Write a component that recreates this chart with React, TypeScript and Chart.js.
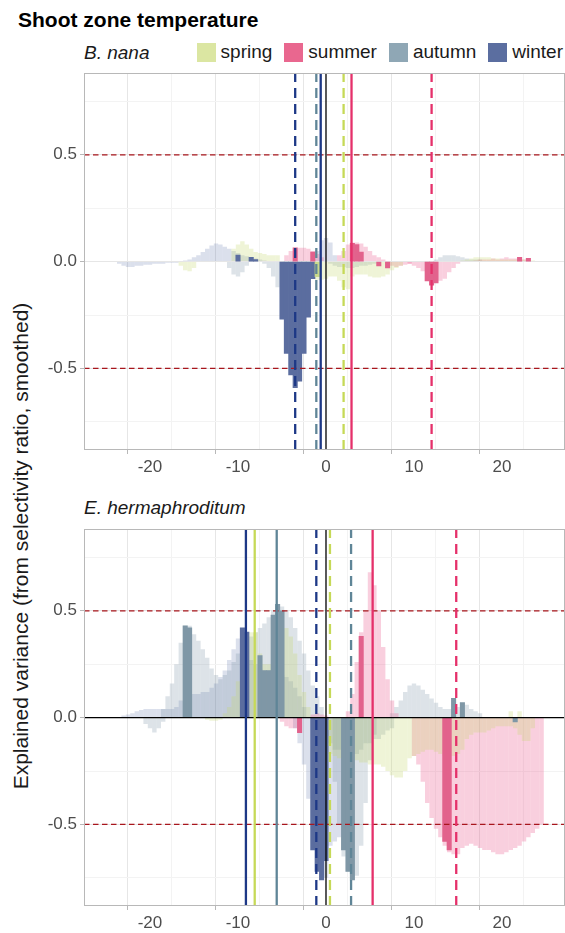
import React, { useEffect, useRef } from 'react';
import { Chart, registerables } from 'chart.js';

Chart.register(...registerables);

// ---------- data ----------
// Each segment: [centre of first 0.5 °C bin, values of consecutive bins]
type Seg = [number, number[]];
const BIN = 0.5;

const seasons = ['spring', 'summer', 'autumn', 'winter'];

// B. nana
const nanaSpringLight: Seg[] = [
  [-16.5, [-0.02, -0.04, -0.045, -0.03]],
  [-10.5, [0.06, 0.08, 0.095, 0.08, 0.06, 0.045, 0.04, 0.035, 0.03, 0.03, 0.03]],
  [-2, [-0.07, -0.08, -0.085, -0.085, -0.08, -0.07, -0.07, -0.09, -0.12, -0.13, -0.07, -0.06, -0.06, -0.06, -0.07, -0.075, -0.075, -0.07, -0.06, -0.04, -0.03, -0.02]],
  [15.5, [0.005, 0.01, 0.015, 0.02, 0.02, 0.02, 0.02, 0.015, 0.015, 0.01, 0.01, 0.01, 0.01, 0.01, 0.01, 0.005, 0.005]],
];
const nanaSummerLight: Seg[] = [
  [-4.5, [0.03, 0.05, 0.06, 0.065, 0.065, 0.06, 0.05, 0.035, 0.02]],
  [1.5, [0.03, 0.05, 0.08, 0.09, 0.09, 0.085, 0.07, 0.05, 0.03, 0.02, 0.01]],
  [7, [-0.01, -0.02, -0.025, -0.02, -0.015, -0.01]],
  [9.5, [-0.01, -0.02, -0.03, -0.045, -0.06, -0.08, -0.09, -0.09, -0.08, -0.05, -0.03, -0.01]],
  [17, [0.005, 0.01, 0.01, 0.01, 0.015, 0.01, 0.015, 0.02, 0.015, 0.015, 0.01, 0.01, 0.005]],
];
const nanaAutumnLight: Seg[] = [
  [-11, [-0.03, -0.06, -0.07, -0.05, -0.02]],
  [-7, [-0.01, -0.03, -0.07, -0.12, -0.15, -0.15, -0.12, -0.1, -0.08, -0.06, -0.04, -0.02]],
  [0.5, [-0.01, -0.02, -0.025, -0.025, -0.03, -0.03, -0.025, -0.02, -0.02, -0.015, -0.01]],
  [12.5, [0.01, 0.02, 0.03, 0.03, 0.03, 0.025, 0.02, 0.015, 0.01, 0.01, 0.01]],
];
const nanaWinterLight: Seg[] = [
  [-23.5, [-0.01, -0.02, -0.025, -0.025, -0.02, -0.02, -0.015, -0.015, -0.01, -0.01, -0.01, -0.005, -0.005, -0.005]],
  [-16, [0.005, 0.01, 0.02, 0.03, 0.045, 0.06, 0.075, 0.085, 0.08, 0.07, 0.06, 0.05, 0.04, 0.03, 0.025, 0.02, 0.015, 0.01, 0.005]],
  [-1, [0.05, 0.1, 0.11, 0.09, 0.03]],
];
const nanaSpringDark: Seg[] = [[-1, [-0.07]]];
const nanaSummerDark: Seg[] = [
  [-3.5, [0.065]], [-1.5, [0.045]], [3, [0.085, 0.08]], [4, [0.045]],
  [6, [-0.02]], [7, [-0.03]], [11.5, [-0.09, -0.11, -0.1]], [22, [0.02]], [23, [0.015]],
];
const nanaAutumnDark: Seg[] = [];
const nanaWinterDark: Seg[] = [
  [-10, [0.03]], [-8.5, [0.02, 0.01]],
  [-5, [-0.27, -0.43, -0.53, -0.59, -0.56, -0.43, -0.26, -0.08]],
];

// E. hermaphroditum
const hermSpringLight: Seg[] = [
  [-13.5, [-0.01, -0.015, -0.015, -0.01]],
  [-11.5, [0.02, 0.05, 0.1, 0.17, 0.25, 0.33, 0.4, 0.4, 0.3, 0.25, 0.25, 0.3, 0.36, 0.42, 0.42, 0.38, 0.3, 0.2, 0.12, 0.05]],
  [0.5, [-0.17, -0.18, -0.19, -0.2, -0.2, -0.2, -0.2, -0.21, -0.21, -0.22, -0.22, -0.22, -0.23, -0.25, -0.27, -0.28, -0.28, -0.25, -0.19, -0.18, -0.17, -0.16, -0.15, -0.15, -0.16, -0.17, -0.18, -0.18, -0.18, -0.17, -0.15, -0.1, -0.08, -0.07, -0.07, -0.07, -0.06, -0.05, -0.04, -0.04, -0.04, -0.04, -0.05, -0.08, -0.11, -0.11, -0.05]],
  [21, [0.03]], [22, [0.03]],
];
const hermSummerLight: Seg[] = [
  [-5, [-0.02, -0.04, -0.05, -0.05, -0.04]],
  [-1.5, [0.015, 0.02, 0.015, 0.01]],
  [2.5, [0.03, 0.11, 0.26, 0.4, 0.5, 0.68, 0.62, 0.5, 0.33, 0.18, 0.08, 0.02]],
  [10, [-0.18, -0.22, -0.3, -0.4, -0.47, -0.52, -0.56, -0.6, -0.63, -0.64, -0.64, -0.61, -0.6, -0.59, -0.6, -0.61, -0.62, -0.62, -0.63, -0.64, -0.64, -0.63, -0.62, -0.61, -0.6, -0.58, -0.56, -0.54, -0.52, -0.5]],
];
const hermAutumnLight: Seg[] = [
  [-20.5, [-0.03, -0.05, -0.07, -0.05, -0.02]],
  [-18.5, [0.04, 0.1, 0.16, 0.25, 0.35, 0.43, 0.43, 0.39, 0.36, 0.32, 0.28, 0.23, 0.2]],
  [-12, [0.18, 0.2, 0.22, 0.26, 0.3, 0.33, 0.36, 0.38, 0.4, 0.42, 0.44, 0.47, 0.5, 0.52, 0.52, 0.5, 0.47, 0.42, 0.36, 0.3, 0.22, 0.15, 0.1, 0.05]],
  [1, [-0.3, -0.5, -0.65, -0.72, -0.76, -0.74, -0.6, -0.4, -0.2, -0.08]],
  [7.5, [0.02, 0.05, 0.08, 0.12, 0.15, 0.16, 0.15, 0.13, 0.11, 0.09, 0.07, 0.05, 0.04, 0.04, 0.04, 0.05, 0.07, 0.06, 0.04, 0.03, 0.02]],
  [0.5, [-0.12, -0.15, -0.15, -0.15, -0.16, -0.17, -0.17, -0.15, -0.12, -0.12, -0.1, -0.1, -0.08, -0.06, -0.05]],
];
const hermWinterLight: Seg[] = [
  [-23, [0.01, 0.015, 0.02, 0.03, 0.035, 0.04, 0.04, 0.04, 0.04, 0.04, 0.04, 0.04, 0.05, 0.08, 0.1, 0.1, 0.11, 0.11, 0.12, 0.12, 0.14, 0.16, 0.19, 0.22, 0.27, 0.32, 0.37, 0.4, 0.3, 0.27, 0.25, 0.23, 0.22, 0.22, 0.21, 0.2, 0.2, 0.19, 0.17, 0.14, 0.1, 0.05]],
  [-3.5, [-0.05, -0.12, -0.22, -0.38, -0.52, -0.6, -0.7, -0.75, -0.6, -0.58, -0.56, -0.4, -0.15]],
];
const hermSpringDark: Seg[] = [];
const hermSummerDark: Seg[] = [[-3, [-0.07]], [4, [0.38]], [13.5, [-0.58, -0.62]]];
const hermAutumnDark: Seg[] = [
  [-16, [0.43, 0.42]], [-7.5, [0.29]], [-7, [0.22, 0.22]], [-6, [0.48, 0.53, 0.5]],
  [2, [-0.62, -0.72, -0.76]], [14.5, [0.09]], [15.5, [0.07]], [21.5, [-0.02]],
];
const hermWinterDark: Seg[] = [[-9.5, [0.42, 0.4]], [-1.5, [-0.62, -0.72, -0.76, -0.67]]];

// reference lines (temperatures)
const nanaSolidX = [-0.6, 2.9];
const nanaSolidSeason = ['winter', 'summer'];
const nanaDashedX = [-3.5, -1.1, 2.0, 12.0];
const nanaDashedSeason = ['winter', 'autumn', 'spring', 'summer'];
const hermSolidX = [-9.1, -8.1, -5.6, 5.3];
const hermSolidSeason = ['winter', 'spring', 'autumn', 'summer'];
const hermDashedX = [-1.1, 0.45, 2.85, 14.8];
const hermDashedSeason = ['winter', 'spring', 'autumn', 'summer'];
const thresholdY = [0.5, -0.5];

const xTicks = [-20, -10, 0, 10, 20];
const yTicks = [-0.5, 0, 0.5];

// ---------- styles ----------
const X_MIN = -27.5;
const X_MAX = 27.16;
const Y_MIN = -0.882;
const Y_MAX = 0.882;
const FONT = '"Liberation Sans", Arial, Helvetica, sans-serif';

const lightFill: Record<string, string> = {
  spring: 'rgba(196,216,110,0.28)',
  summer: 'rgba(236,96,146,0.30)',
  autumn: 'rgba(112,138,160,0.24)',
  winter: 'rgba(92,112,168,0.22)',
};
const darkFill: Record<string, string> = {
  spring: '#c9d98a',
  summer: '#e2628c',
  autumn: '#7f97a6',
  winter: '#5b6d9f',
};
const lineColor: Record<string, string> = {
  spring: '#c6d957',
  summer: '#e5306a',
  autumn: '#5f8597',
  winter: '#1d3886',
};
const legendColor: Record<string, string> = {
  spring: '#dbe6a2',
  summer: '#e9678f',
  autumn: '#8fa7b5',
  winter: '#5b6ea0',
};

type Panel = {
  light: Record<string, Seg[]>;
  dark: Record<string, Seg[]>;
  solidX: number[];
  solidSeason: string[];
  dashedX: number[];
  dashedSeason: string[];
  zeroH: boolean;
};

const nanaPanel: Panel = {
  light: { spring: nanaSpringLight, summer: nanaSummerLight, autumn: nanaAutumnLight, winter: nanaWinterLight },
  dark: { spring: nanaSpringDark, summer: nanaSummerDark, autumn: nanaAutumnDark, winter: nanaWinterDark },
  solidX: nanaSolidX, solidSeason: nanaSolidSeason,
  dashedX: nanaDashedX, dashedSeason: nanaDashedSeason,
  zeroH: false,
};
const hermPanel: Panel = {
  light: { spring: hermSpringLight, summer: hermSummerLight, autumn: hermAutumnLight, winter: hermWinterLight },
  dark: { spring: hermSpringDark, summer: hermSummerDark, autumn: hermAutumnDark, winter: hermWinterDark },
  solidX: hermSolidX, solidSeason: hermSolidSeason,
  dashedX: hermDashedX, dashedSeason: hermDashedSeason,
  zeroH: true,
};

function segPoints(segs: Seg[]) {
  const pts: { x: number; y: number }[] = [];
  segs.forEach(([start, vals]) => vals.forEach((v, i) => pts.push({ x: start + i * BIN, y: v })));
  return pts;
}

function barSet(segs: Seg[], color: string, order: number, inflate: number) {
  return {
    type: 'bar',
    data: segPoints(segs),
    backgroundColor: color,
    borderWidth: 0,
    grouped: false,
    barPercentage: 1,
    categoryPercentage: 1,
    inflateAmount: inflate,
    order,
  };
}

function lineSet(data: { x: number; y: number }[], color: string, width: number, dash: number[], order: number) {
  return {
    type: 'line',
    data,
    borderColor: color,
    borderWidth: width,
    borderDash: dash,
    borderCapStyle: 'butt',
    pointRadius: 0,
    fill: false,
    tension: 0,
    clip: 0,
    order,
  };
}

const isMult = (v: number, m: number) => Math.abs(v / m - Math.round(v / m)) < 1e-6;
const tickVal = (c: any) => (c && c.tick ? c.tick.value : NaN);
const near = (arr: number[], v: number) => arr.some((t) => Math.abs(t - v) < 1e-6);

const borderPlugin = {
  id: 'panelBorder',
  afterDatasetsDraw(chart: any) {
    const { ctx, chartArea: a } = chart;
    ctx.save();
    ctx.strokeStyle = '#b8b8b8';
    ctx.lineWidth = 1;
    ctx.strokeRect(Math.round(a.left) + 0.5, Math.round(a.top) + 0.5, Math.round(a.width) - 1, Math.round(a.height) - 1);
    ctx.restore();
  },
};

function buildConfig(p: Panel, axisHeight: number): any {
  const datasets: any[] = [];
  seasons.forEach((s) => datasets.push(barSet(p.light[s], lightFill[s], 40, 0)));
  seasons.forEach((s) => datasets.push(barSet(p.dark[s], darkFill[s], 30, 0.33)));
  thresholdY.forEach((y) =>
    datasets.push(lineSet([{ x: X_MIN, y }, { x: X_MAX, y }], '#a8161d', 1.3, [5.5, 3.5], 20))
  );
  if (p.zeroH) datasets.push(lineSet([{ x: X_MIN, y: 0 }, { x: X_MAX, y: 0 }], '#000000', 1.3, [], 15));
  datasets.push(lineSet([{ x: 0, y: Y_MIN }, { x: 0, y: Y_MAX }], '#000000', 1.3, [], 14));
  p.solidX.forEach((x, i) =>
    datasets.push(lineSet([{ x, y: Y_MIN }, { x, y: Y_MAX }], lineColor[p.solidSeason[i]], 2.3, [], 10))
  );
  p.dashedX.forEach((x, i) =>
    datasets.push(lineSet([{ x, y: Y_MIN }, { x, y: Y_MAX }], lineColor[p.dashedSeason[i]], 2.3, [10, 6], 10))
  );

  return {
    type: 'bar',
    data: { datasets },
    plugins: [borderPlugin],
    options: {
      animation: false,
      responsive: false,
      events: [],
      layout: { padding: { top: 9, left: 0, right: 0, bottom: 0 } },
      plugins: { legend: { display: false }, tooltip: { enabled: false } },
      scales: {
        x: {
          type: 'linear',
          min: X_MIN,
          max: X_MAX,
          offset: false,
          afterFit: (scale: any) => { scale.height = axisHeight; },
          border: { display: false },
          grid: {
            color: (c: any) => {
              const v = tickVal(c);
              return isMult(v, 10) ? '#e6e6e6' : isMult(v, 5) ? '#f3f3f3' : 'rgba(0,0,0,0)';
            },
            tickColor: (c: any) => (near(xTicks, tickVal(c)) ? '#b8b8b8' : 'rgba(0,0,0,0)'),
            tickLength: 4,
            lineWidth: 1,
          },
          ticks: {
            stepSize: 5,
            includeBounds: false,
            autoSkip: false,
            maxRotation: 0,
            padding: 3,
            color: '#4d4d4d',
            font: { family: FONT, size: 17 },
            callback: (v: number) => (near(xTicks, v) ? String(v) : ''),
          },
        },
        y: {
          type: 'linear',
          min: Y_MIN,
          max: Y_MAX,
          afterFit: (scale: any) => { scale.width = 84; },
          border: { display: false },
          grid: {
            color: (c: any) => {
              const v = tickVal(c);
              return isMult(v, 0.5) ? '#e6e6e6' : isMult(v, 0.25) ? '#f3f3f3' : 'rgba(0,0,0,0)';
            },
            tickColor: (c: any) => (near(yTicks, tickVal(c)) ? '#b8b8b8' : 'rgba(0,0,0,0)'),
            tickLength: 4,
            lineWidth: 1,
          },
          ticks: {
            stepSize: 0.25,
            includeBounds: false,
            autoSkip: false,
            padding: 3,
            color: '#4d4d4d',
            font: { family: FONT, size: 17 },
            callback: (v: number) => (near(yTicks, v) ? v.toFixed(1) : ''),
          },
        },
      },
    },
  };
}

function PanelChart({ panel, top, height, axisHeight }: { panel: Panel; top: number; height: number; axisHeight: number }) {
  const ref = useRef<HTMLCanvasElement>(null);
  useEffect(() => {
    const chart = new Chart(ref.current as HTMLCanvasElement, buildConfig(panel, axisHeight));
    return () => chart.destroy();
  }, []);
  return (
    <canvas
      ref={ref}
      width={565}
      height={height}
      style={{ position: 'absolute', left: 0, top, width: 565, height, display: 'block' }}
    />
  );
}

export default function App() {
  return (
    <div
      style={{
        position: 'fixed', left: 0, top: 0, width: 565, height: 933, overflow: 'hidden',
        background: '#ffffff', fontFamily: FONT, color: '#000',
      }}
    >
      <div style={{ position: 'absolute', left: 18, top: 8, fontSize: 21, fontWeight: 'bold', lineHeight: '24px', whiteSpace: 'nowrap' }}>
        Shoot zone temperature
      </div>
      <div style={{ position: 'absolute', left: 84, top: 42, fontSize: 19, fontStyle: 'italic', lineHeight: '22px', whiteSpace: 'nowrap', color: '#1a1a1a' }}>
        B. nana
      </div>
      <div style={{ position: 'absolute', right: 2, top: 41, display: 'flex', alignItems: 'center', whiteSpace: 'nowrap' }}>
        {seasons.map((s, i) => (
          <div key={s} style={{ display: 'flex', alignItems: 'center', marginLeft: i === 0 ? 0 : 12 }}>
            <div style={{ width: 19, height: 19, background: legendColor[s], marginRight: 5 }} />
            <span style={{ fontSize: 19, lineHeight: '22px', color: '#1a1a1a' }}>{s}</span>
          </div>
        ))}
      </div>
      <div style={{ position: 'absolute', left: 84, top: 497, fontSize: 19, fontStyle: 'italic', lineHeight: '22px', whiteSpace: 'nowrap', color: '#1a1a1a' }}>
        E. hermaphroditum
      </div>
      <div
        style={{
          position: 'absolute', left: 21, top: 546, width: 700, textAlign: 'center', fontSize: 21,
          lineHeight: '24px', whiteSpace: 'nowrap', transform: 'translate(-50%, -50%) rotate(-90deg)', color: '#1a1a1a',
        }}
      >
        Explained variance (from selectivity ratio, smoothed)
      </div>
      <PanelChart panel={nanaPanel} top={60} height={420} axisHeight={30} />
      <PanelChart panel={hermPanel} top={516} height={415} axisHeight={25} />
    </div>
  );
}
